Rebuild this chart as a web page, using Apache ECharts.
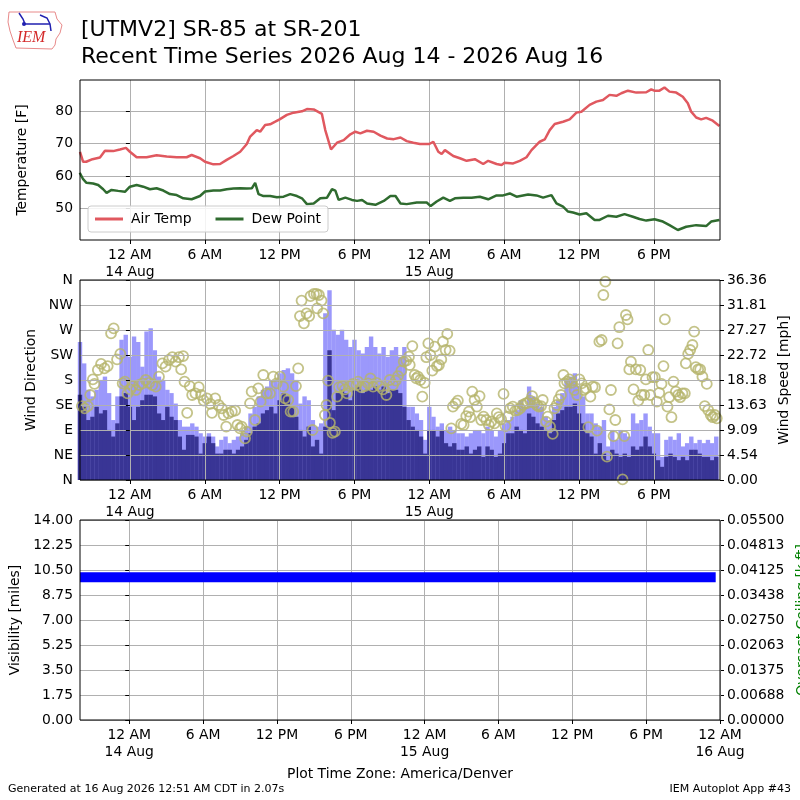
<!DOCTYPE html>
<html>
<head>
    <meta charset="utf-8">
    <style>
        html, body { margin: 0; padding: 0; background: #fff; }
    </style>
</head>
<body>

<div id="main" style="width: 800px;height:800px;"></div>
<script src="https://cdn.jsdelivr.net/npm/echarts@6/dist/echarts.min.js"></script>
<script type="text/javascript">
    var FONT = 'DejaVu Sans';

    // hours since 14 Aug 00:00 (America/Denver)
    var xTickHours = [0, 6, 12, 18, 24, 30, 36, 42, 48];
    var xTickLabels = ['12 AM\n14 Aug', '6 AM', '12 PM', '6 PM', '12 AM\n15 Aug', '6 AM', '12 PM', '6 PM', '12 AM\n16 Aug'];

    // air temperature [F]
    var airHours = [-4.0, -3.75, -3.5, -3.0, -2.4, -2.0, -1.34, -0.8, -0.32, 0, 0.54, 1.34, 2.14, 2.95, 3.75, 4.55, 4.95, 5.62,
        6.02, 6.69, 7.23, 7.76, 8.3, 8.84, 9.37, 9.64, 10.17, 10.44, 10.84, 11.24, 11.65, 12.0, 12.58, 13.12, 13.79, 14.19,
        14.73, 15.39, 15.66, 16.12, 16.6, 17.14, 17.67, 18.07, 18.47, 19.0, 19.54, 20.08, 20.62, 21.15, 21.69, 22.19, 22.72,
        23.25, 24.0, 24.32, 24.72, 24.99, 25.25, 25.92, 26.45, 26.99, 27.65, 28.32, 28.72, 29.39, 29.79, 30.03, 30.72, 31.25,
        31.79, 32.19, 32.85, 33.25, 33.65, 34.05, 34.72, 35.25, 35.79, 36.19, 36.85, 37.39, 37.92, 38.45, 38.99, 39.39, 39.92,
        40.59, 41.39, 41.79, 42.03, 42.45, 42.85, 43.25, 43.79, 44.32, 44.72, 44.99, 45.39, 45.79, 46.19, 46.72, 47.25];
    var airTemp = [67.5, 64.4, 64.4, 65.2, 65.7, 67.8, 67.7, 68.2, 68.7, 67.5, 65.8, 65.8, 66.4, 66.0, 65.8, 65.8, 66.5, 65.5,
        64.4, 63.6, 63.7, 65.0, 66.2, 67.5, 69.9, 72.2, 74.2, 73.7, 75.8, 76.0, 76.8, 77.5, 78.9, 79.6, 80.0, 80.7,
        80.6, 79.2, 74.2, 68.2, 70.3, 71.1, 72.9, 73.7, 73.2, 74.0, 73.7, 72.5, 71.6, 71.4, 71.9, 70.8, 70.3,
        69.9, 69.9, 70.6, 67.5, 66.8, 68.0, 66.2, 65.5, 64.7, 65.2, 63.7, 64.7, 63.7, 63.4, 64.1, 63.9, 64.7,
        65.8, 68.0, 70.6, 71.3, 74.2, 76.1, 76.8, 77.5, 79.6, 79.9, 82.0, 83.0, 83.5, 85.1, 84.8, 85.6, 86.4,
        85.8, 85.9, 86.8, 86.4, 86.4, 87.4, 86.1, 85.8, 84.5, 82.5, 79.9, 78.1, 77.5, 78.0, 77.1, 75.5];

    // dew point [F]
    var dewHours = [-4.02, -3.75, -3.48, -2.95, -2.54, -2.14, -1.87, -1.47, -0.94, -0.4, 0, 0.54, 1.07, 1.61, 2.14, 2.68,
        3.21, 3.75, 4.28, 4.95, 5.62, 6.02, 6.69, 7.23, 7.76, 8.3, 8.84, 9.37, 9.77, 10.04, 10.31, 10.71, 11.24, 11.78,
        12.32, 12.85, 13.39, 13.79, 14.19, 14.73, 15.26, 15.8, 16.2, 16.47, 16.73, 17.27, 17.8, 18.21, 18.61, 19.01,
        19.68, 20.35, 20.88, 21.29, 21.69, 22.19, 22.99, 23.79, 24.11, 24.59, 25.12, 25.65, 26.05, 26.72, 27.39, 28.05,
        28.72, 29.39, 29.92, 30.45, 30.99, 31.92, 32.59, 33.12, 33.79, 34.19, 34.72, 35.12, 35.52, 36.05, 36.59, 37.25,
        37.65, 38.32, 38.99, 39.65, 40.32, 40.85, 41.39, 42.05, 42.72, 43.25, 43.92, 44.59, 45.39, 46.19, 46.59, 47.25];
    var dewTemp = [61.0, 59.0, 57.9, 57.7, 57.2, 55.9, 54.8, 55.7, 55.4, 55.1, 56.7, 57.2, 56.7, 55.9, 56.2, 55.5,
        54.4, 54.1, 53.1, 52.8, 53.8, 55.2, 55.5, 55.5, 55.9, 56.1, 56.2, 56.1, 56.2, 57.9, 54.4, 53.8, 53.8, 53.4,
        53.6, 54.4, 53.8, 53.1, 51.3, 51.5, 53.1, 53.3, 55.9, 55.5, 52.6, 53.3, 52.6, 52.3, 52.6, 51.5,
        51.1, 52.3, 53.8, 53.8, 51.5, 51.3, 51.8, 51.8, 50.7, 52.1, 53.3, 52.3, 53.1, 53.3, 53.3, 53.6,
        52.8, 54.0, 54.0, 54.6, 53.6, 54.3, 54.0, 53.3, 54.1, 51.5, 50.5, 49.0, 48.7, 48.1, 48.5, 46.4,
        46.4, 47.7, 47.4, 48.2, 47.4, 46.7, 46.2, 46.6, 45.9, 44.8, 43.3, 44.3, 44.8, 44.5, 45.9, 46.4];

    // wind obs every 20 minutes starting 13 Aug 20:00
    var windStartHour = -4;
    var windStepHour = 1 / 3;
    var windSpeed = [15.5, 13.3, 10.9, 11.5, 13.3, 12.1, 12.7, 9.1, 7.9, 10.3,
        15.2, 15.8, 13.3, 10.9, 13.3, 14.5, 15.5, 15.5, 15.2, 12.1,
        10.9, 13.3, 11.5, 10.9, 7.9, 5.5, 8.2, 8.2, 7.9, 4.8,
        6.7, 7.9, 6.7, 4.8, 4.8, 5.5, 5.5, 4.8, 5.5, 6.1,
        7.3, 8.5, 9.7, 10.3, 12.1, 12.7, 13.3, 12.1, 14.5, 15.8,
        15.2, 13.3, 11.5, 9.1, 7.9, 9.7, 6.1, 7.3, 4.8, 9.7,
        23.6, 12.7, 15.8, 16.4, 15.8, 14.5, 16.4, 17.0, 15.8, 16.4,
        16.4, 17.0, 16.4, 17.0, 15.8, 16.4, 16.4, 15.8, 13.3, 10.9,
        9.7, 9.1, 7.9, 4.8, 9.1, 9.1, 7.9, 9.1, 6.7, 6.1,
        6.7, 5.5, 5.5, 6.1, 4.8, 5.5, 6.1, 4.2, 6.1, 5.5,
        4.2, 4.8, 6.7, 8.5, 8.5, 9.7, 9.1, 8.5, 12.1, 11.5,
        10.3, 9.7, 9.1, 8.5, 10.9, 12.1, 12.7, 13.3, 13.3, 13.9,
        12.1, 10.3, 8.5, 7.9, 4.8, 6.7, 4.8, 3.6, 5.5, 4.8,
        4.2, 4.8, 4.2, 6.1, 5.5, 6.1, 7.9, 6.1, 4.8, 3.6,
        2.4, 4.2, 4.8, 4.2, 3.6, 4.2, 3.6, 5.5, 5.5, 4.8,
        4.2, 4.2, 3.6, 4.2];
    var windGust = [25.1, 21.2, 16.4, 15.2, 16.4, 18.2, 18.8, 15.8, 10.9, 15.2,
        25.5, 26.4, 22.4, 26.1, 25.1, 20.6, 27.0, 27.6, 23.6, 18.8,
        18.2, 16.4, 15.8, 13.9, 10.9, 9.7, 9.7, 10.3, 9.7, 8.5,
        7.9, 8.5, 7.9, 6.1, 7.3, 7.9, 6.7, 7.3, 7.9, 8.5,
        9.7, 12.1, 13.3, 15.2, 16.4, 17.0, 18.2, 18.2, 19.4, 20.0,
        20.3, 19.4, 18.2, 13.9, 15.2, 14.5, 10.9, 9.7, 10.3, 30.3,
        34.5, 27.3, 26.4, 27.3, 25.5, 24.2, 25.5, 23.6, 23.0, 24.2,
        26.1, 24.2, 23.0, 24.2, 22.4, 23.6, 24.2, 22.4, 24.2, 13.3,
        13.3, 12.1, 10.9, 7.3, 13.3, 11.5, 9.7, 10.3, 9.1, 9.7,
        9.1, 8.5, 8.5, 7.9, 8.5, 9.1, 9.1, 8.5, 9.7, 9.1,
        7.9, 9.1, 10.3, 10.9, 11.5, 12.7, 14.5, 13.3, 17.0, 15.2,
        13.9, 13.3, 11.5, 10.9, 13.3, 14.5, 15.8, 18.2, 18.8, 19.4,
        17.0, 15.2, 12.1, 12.1, 10.3, 9.7, 10.9, 6.1, 9.1, 7.3,
        9.1, 8.5, 7.9, 12.1, 10.3, 10.9, 12.1, 9.7, 8.5, 8.5,
        4.2, 7.3, 7.9, 7.3, 8.5, 6.1, 6.7, 7.9, 6.7, 7.3,
        6.7, 7.3, 6.7, 7.9];

    // wind direction [deg]
    var dirHours = [-3.85, -3.63, -3.37, -3.18, -2.97, -2.84, -2.57, -2.31, -2.04, -1.78, -1.51, -1.3, -1.03, -0.77, -0.58,
        -0.4, -0.19, 0.03, 0.21, 0.48, 0.74, 1.01, 1.27, 1.54, 1.8, 2.07, 2.33, 2.6, 2.86, 3.13, 3.4, 3.66, 3.93, 4.11, 4.27,
        4.38, 4.59, 4.8, 4.99, 5.25, 5.52, 5.7, 5.92, 6.18, 6.45, 6.58, 6.84, 7.11, 7.37, 7.51, 7.72, 7.9, 8.17, 8.44, 8.62, 8.83,
        8.96, 9.23, 9.36, 9.63, 9.76, 10.03, 10.29, 10.48, 10.69, 10.96, 11.23, 11.49, 11.76, 12.03, 12.29, 12.43, 12.69, 12.88,
        13.09, 13.31, 13.49, 13.63, 13.76, 13.95, 14.16, 14.37, 14.48, 14.64, 14.75, 14.96, 15.01, 15.15, 15.36, 15.49, 15.63,
        15.76, 15.89, 16.03, 16.24, 16.43, 16.61, 16.77, 17.04, 17.23, 17.41, 17.63, 17.89, 18.16, 18.29, 18.56, 18.83, 19.09,
        19.28, 19.49, 19.76, 20.03, 20.29, 20.56, 20.83, 21.09, 21.31, 21.49, 21.76, 21.95,
        22.16, 22.37, 22.43, 22.64, 22.83, 22.96, 23.09, 23.28, 23.44, 23.63, 23.76, 23.92, 24.08, 24.24, 24.43, 24.61, 24.77,
        24.96, 25.09, 25.31, 25.44, 25.63, 25.76, 25.89, 26.11, 26.29, 26.56, 26.75, 26.96, 27.17, 27.28, 27.44, 27.63, 27.81,
        28.03, 28.16, 28.35, 28.56, 28.77, 28.96, 29.23, 29.41, 29.57, 29.76, 29.95, 30.11, 30.29, 30.48, 30.69, 30.91, 31.09,
        31.28, 31.49, 31.71, 31.89, 32.08, 32.24, 32.43, 32.61, 32.77, 32.96, 33.09, 33.36, 33.49, 33.68, 33.89, 34.03, 34.21,
        34.37, 34.56, 34.75, 34.83,
        35.04, 35.23, 35.41, 35.63, 35.84, 36.03, 36.21, 36.37, 36.56, 36.75, 36.91, 37.09, 37.28, 37.44, 37.63, 37.81, 37.95,
        38.11, 38.24, 38.43, 38.56, 38.77, 38.91, 39.09, 39.23, 39.49, 39.63, 39.76, 39.89, 40.03, 40.16, 40.37, 40.56, 40.75,
        40.91, 41.01, 41.23, 41.36, 41.55, 41.71, 41.89, 42.08, 42.24, 42.43, 42.61, 42.77, 42.88, 43.09, 43.23, 43.41, 43.57,
        43.76, 43.95, 44.11, 44.29, 44.48, 44.56, 44.75, 44.91, 45.09, 45.23, 45.36, 45.55, 45.71, 45.89, 46.08, 46.24, 46.35,
        46.56, 46.72, 46.88, 47.04];
    var dirDeg = [133, 129, 133, 153, 181, 173, 198, 209, 201, 205, 264, 273, 217, 227, 174,
        177, 156, 163, 169, 162, 171, 174, 180, 175, 171, 168, 186, 210, 204, 216, 221, 213, 221, 199, 223,
        177, 121, 169, 153, 156, 167, 153, 143, 147, 137, 121, 147, 135, 129, 117, 96, 120, 123, 125, 99, 93,
        96, 75, 87, 138, 159, 108, 165, 141, 189, 156, 156, 186, 174, 186, 168, 147, 144, 123,
        123, 169, 201, 295, 323, 282, 300, 295, 331, 90, 335, 335, 309, 333, 323, 300, 117,
        135, 179, 103, 85, 87, 150, 167, 169, 163, 156, 169, 173, 171, 177, 167, 169, 174,
        183, 168, 175, 169, 163, 153, 180, 171, 179, 187, 197, 213,
        215, 222, 207, 241, 189, 183, 186, 180, 150, 175, 221, 246, 225, 197, 240, 205, 207,
        217, 249, 234, 263, 233, 93, 132, 138, 143, 101, 99, 115, 123, 113, 159, 144, 132,
        151, 108, 114, 108, 99, 105, 102, 120, 113, 109, 155, 97, 114, 129, 132, 125, 126,
        129, 135, 138, 139, 143, 151, 139, 135, 132, 133, 144, 105, 114, 96, 83, 129, 135,
        145, 153, 189, 174,
        177, 181, 175, 162, 153, 181, 174, 162, 165, 95, 150, 168, 167, 89, 249, 252, 333,
        357, 42, 127, 162, 79, 108, 246, 275, 1, 79, 297, 289, 199, 213, 163, 199, 143,
        198, 153, 153, 181, 234, 153, 185, 185, 141, 157, 173, 205, 289, 132, 149, 113, 177,
        159, 153, 149, 156, 156, 210, 227, 234, 243, 267, 203, 199, 199, 186, 133, 173, 126,
        117, 113, 117, 111];
    var dirTickLabels = ['N', 'NE', 'E', 'SE', 'S', 'SW', 'W', 'NW', 'N'];
    var speedTickLabels = ['0.00', '4.54', '9.09', '13.63', '18.18', '22.72', '27.27', '31.81', '36.36'];

    // visibility [miles], hourly
    var visStartHour = -4;
    var visibility = [10, 10, 10, 10, 10, 10, 10, 10, 10, 10, 10, 10, 10, 10, 10, 10, 10, 10,
        10, 10, 10, 10, 10, 10, 10, 10, 10, 10, 10, 10, 10, 10, 10, 10, 10, 10,
        10, 10, 10, 10, 10, 10, 10, 10, 10, 10, 10, 10, 10, 10, 10, 10];
    var visEndHour = 47.65;
    var ceilingTickLabels = ['0.00000', '0.00688', '0.01375', '0.02063', '0.02750', '0.03438', '0.04125', '0.04813', '0.05500'];

    function pairs(xs, ys) {
        return xs.map(function (x, i) { return [x, ys[i]]; });
    }
    var windData = function (vals) {
        return vals.map(function (v, i) { return [windStartHour + i * windStepHour, v]; });
    };
    var visData = visibility.map(function (v, i) { return [visStartHour + i, v]; });
    visData.push([visEndHour, visibility[visibility.length - 1]]);

    var labelStyle = { fontSize: 13.9, color: '#000', fontFamily: FONT };
    var gridLine = { show: true, lineStyle: { color: '#b0b0b0', width: 1 } };

    function timeAxis(grid, max, ticks, z) {
        return {
            gridIndex: grid, type: 'value', min: -4, max: max, z: z,
            axisLine: { show: false },
            axisTick: { show: true, customValues: ticks, length: 4, lineStyle: { color: '#000' } },
            axisLabel: Object.assign({
                customValues: ticks, margin: 7, lineHeight: 17,
                formatter: function (v) { return xTickLabels[xTickHours.indexOf(Math.round(v))]; }
            }, labelStyle),
            splitLine: gridLine
        };
    }

    function nameStyle(color) {
        return { fontSize: 13.9, color: color || '#000', fontFamily: FONT };
    }

    function panel(top, height) {
        return {
            left: 80, top: top, width: 640, height: height,
            show: true, borderColor: '#000', borderWidth: 1, z: 10,
            containLabel: false, outerBoundsMode: 'none'
        };
    }

    var option = {
        animation: false,
        backgroundColor: '#fff',
        textStyle: { fontFamily: FONT },
        grid: [panel(80, 160), panel(280, 200), panel(520, 200)],
        legend: {
            data: ['Air Temp', 'Dew Point'],
            left: 88, top: 206,
            icon: 'rect',
            itemWidth: 28, itemHeight: 3, itemGap: 24,
            padding: [6, 7, 6, 7],
            borderColor: '#cccccc', borderWidth: 1, borderRadius: 3,
            backgroundColor: 'rgba(255,255,255,0.85)',
            textStyle: { fontSize: 13.9, color: '#000', fontFamily: FONT, padding: [0, 0, 0, 3] }
        },
        xAxis: [
            timeAxis(0, 47.3, xTickHours.slice(0, 8), 0),
            timeAxis(1, 47.3, xTickHours.slice(0, 8), 3),
            timeAxis(2, 48, xTickHours, 3)
        ],
        yAxis: [
            {
                gridIndex: 0, type: 'value', min: 40.2, max: 89.7,
                name: 'Temperature [F]', nameLocation: 'middle', nameGap: 51, nameRotate: 90,
                nameTextStyle: nameStyle(),
                axisLine: { show: false },
                axisTick: { customValues: [50, 60, 70, 80], length: 4, lineStyle: { color: '#000' } },
                axisLabel: Object.assign({ customValues: [50, 60, 70, 80], margin: 7 }, labelStyle),
                splitLine: gridLine
            },
            {
                gridIndex: 1, type: 'value', min: 0, max: 360, interval: 45, z: 3,
                name: 'Wind Direction', nameLocation: 'middle', nameGap: 34, nameRotate: 90,
                nameTextStyle: nameStyle(),
                axisLine: { show: false },
                axisTick: { length: 4, lineStyle: { color: '#000' } },
                axisLabel: Object.assign({
                    margin: 7,
                    formatter: function (v) { return dirTickLabels[Math.round(v / 45)]; }
                }, labelStyle),
                splitLine: gridLine
            },
            {
                gridIndex: 1, type: 'value', position: 'right', min: 0, max: 36.36, interval: 4.545,
                name: 'Wind Speed [mph]', nameLocation: 'middle', nameGap: 56, nameRotate: 90,
                nameTextStyle: nameStyle(),
                axisLine: { show: false },
                axisTick: { length: 4, lineStyle: { color: '#000' } },
                axisLabel: Object.assign({
                    margin: 7,
                    formatter: function (v) { return speedTickLabels[Math.round(v / 4.545)]; }
                }, labelStyle),
                splitLine: { show: false }
            },
            {
                gridIndex: 2, type: 'value', min: 0, max: 14, interval: 1.75, z: 3,
                name: 'Visibility [miles]', nameLocation: 'middle', nameGap: 51, nameRotate: 90,
                nameTextStyle: nameStyle(),
                axisLine: { show: false },
                axisTick: { length: 4, lineStyle: { color: '#000' } },
                axisLabel: Object.assign({
                    margin: 7,
                    formatter: function (v) { return v.toFixed(2); }
                }, labelStyle),
                splitLine: gridLine
            },
            {
                gridIndex: 2, type: 'value', position: 'right', min: 0, max: 0.055, interval: 0.006875,
                name: 'Overcast Ceiling [k ft]', nameLocation: 'middle', nameGap: 72, nameRotate: 90,
                nameTextStyle: nameStyle('#008000'),
                axisLine: { show: false },
                axisTick: { length: 4, lineStyle: { color: '#000' } },
                axisLabel: Object.assign({
                    margin: 7,
                    formatter: function (v) { return ceilingTickLabels[Math.round(v / 0.006875)]; }
                }, labelStyle),
                splitLine: { show: false }
            }
        ],
        series: [
            {
                name: 'Air Temp', type: 'line', xAxisIndex: 0, yAxisIndex: 0,
                data: pairs(airHours, airTemp), symbol: 'none',
                color: '#e0585f', lineStyle: { color: '#e0585f', width: 2.5 }
            },
            {
                name: 'Dew Point', type: 'line', xAxisIndex: 0, yAxisIndex: 0,
                data: pairs(dewHours, dewTemp), symbol: 'none',
                color: '#2f6b2f', lineStyle: { color: '#2f6b2f', width: 2.5 }
            },
            {
                name: 'Gust', type: 'bar', xAxisIndex: 1, yAxisIndex: 2,
                data: windData(windGust), barWidth: 4.4, barGap: '-100%',
                itemStyle: { color: '#9b98fb' }
            },
            {
                name: 'Speed', type: 'bar', xAxisIndex: 1, yAxisIndex: 2,
                data: windData(windSpeed), barWidth: 4.4, barGap: '-100%',
                itemStyle: { color: '#393595' }
            },
            {
                name: 'Direction', type: 'scatter', xAxisIndex: 1, yAxisIndex: 1,
                data: pairs(dirHours, dirDeg), symbol: 'circle', symbolSize: 10,
                itemStyle: { color: 'rgba(0,0,0,0)', borderColor: '#b5b46c', borderWidth: 1.8 }
            },
            {
                name: 'Visibility', type: 'line', xAxisIndex: 2, yAxisIndex: 3,
                data: visData, symbol: 'none',
                lineStyle: { color: '#0000ff', width: 10, cap: 'butt' }
            }
        ],
        graphic: [
            { type: 'text', left: 81, top: 19, style: { text: '[UTMV2] SR-85 at SR-201', fontSize: 22, fontFamily: FONT, fill: '#000' } },
            { type: 'text', left: 81, top: 46, style: { text: 'Recent Time Series 2026 Aug 14 - 2026 Aug 16', fontSize: 22, fontFamily: FONT, fill: '#000' } },
            { type: 'text', x: 400, y: 774, style: { text: 'Plot Time Zone: America/Denver', fontSize: 13.9, fontFamily: FONT, fill: '#000', align: 'center', verticalAlign: 'middle' } },
            { type: 'text', x: 8, y: 789, style: { text: 'Generated at 16 Aug 2026 12:51 AM CDT in 2.07s', fontSize: 11, fontFamily: FONT, fill: '#000', verticalAlign: 'middle' } },
            { type: 'text', x: 791, y: 789, style: { text: 'IEM Autoplot App #43', fontSize: 11, fontFamily: FONT, fill: '#000', align: 'right', verticalAlign: 'middle' } },
            // logo
            {
                type: 'polygon',
                shape: { points: [[9, 12], [55, 12], [57, 19], [62, 25], [60, 33], [56, 39], [55, 45], [52, 49], [16, 48], [13, 40], [10, 31], [8, 22]] },
                style: { fill: 'none', stroke: '#e88a8a', lineWidth: 1 }
            },
            { type: 'polyline', shape: { points: [[19, 13], [23, 19], [25, 24], [50, 24]] }, style: { stroke: '#2020b0', lineWidth: 1.5, fill: 'none' } },
            { type: 'polyline', shape: { points: [[40, 15], [47, 18], [50, 24], [51, 31]] }, style: { stroke: '#2020b0', lineWidth: 1.5, fill: 'none' } },
            { type: 'circle', shape: { cx: 24, cy: 24, r: 2 }, style: { fill: '#2020b0' } },
            { type: 'text', x: 17, y: 38, style: { text: 'IEM', fontSize: 16, fontStyle: 'italic', fontFamily: 'Liberation Serif', fill: '#d42a2a', verticalAlign: 'middle' } }
        ]
    };

    var myChart = echarts.init(document.getElementById('main'));
    myChart.setOption(option);
</script>
</body>
</html>
